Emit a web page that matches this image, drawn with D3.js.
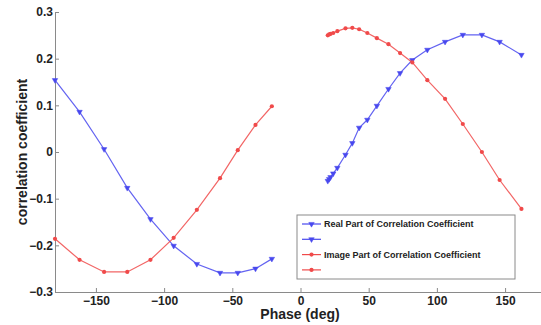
<!DOCTYPE html>
<html>
<head>
<meta charset="utf-8">
<script src="https://cdn.jsdelivr.net/npm/d3@7"></script>
<style>
  body { margin: 0; background: #fff; }
  text { font-family: "Liberation Sans", Arial, sans-serif; font-weight: bold; }
</style>
</head>
<body>
<div id="chart"></div>
<script>
//***************** data *******************/
var phaseNeg = [-180, -162, -144, -127, -110, -93, -76, -59, -46, -33, -21];
var realNeg  = [0.154, 0.086, 0.006, -0.077, -0.144, -0.201, -0.240, -0.259, -0.259, -0.250, -0.229];
var imagNeg  = [-0.186, -0.231, -0.257, -0.257, -0.231, -0.184, -0.124, -0.056, 0.004, 0.058, 0.098];

var phasePos = [20, 21, 22, 24, 27, 33, 38, 43, 49, 56, 64.5, 73, 82, 93, 106, 119, 133, 146, 162];
var realPos  = [-0.062, -0.058, -0.054, -0.046, -0.034, -0.006, 0.019, 0.052, 0.069, 0.099, 0.135, 0.169, 0.197, 0.219, 0.236, 0.251, 0.251, 0.236, 0.208];
var imagPos  = [0.250, 0.252, 0.253, 0.255, 0.259, 0.265, 0.266, 0.263, 0.255, 0.244, 0.231, 0.212, 0.192, 0.154, 0.114, 0.060, 0.000, -0.060, -0.122];

var xTicks = [-150, -100, -50, 0, 50, 100, 150];
var yTicks = [-0.3, -0.2, -0.1, 0, 0.1, 0.2, 0.3];
var legendLabels = ["Real Part of Correlation Coefficient", "", "Image Part of Correlation Coefficient", ""];

var blue = "#4848ee", red = "#f04a4a";

function zip(xs, ys) { return xs.map(function(d, i) { return {p: d, v: ys[i]}; }); }

var series = [
  {data: zip(phaseNeg, realNeg), color: blue, marker: "tri"},
  {data: zip(phasePos, realPos), color: blue, marker: "tri"},
  {data: zip(phaseNeg, imagNeg), color: red, marker: "dot"},
  {data: zip(phasePos, imagPos), color: red, marker: "dot"}
];

//************* dimensions ***************/
var W = 541, H = 325;
var svg = d3.select("#chart").append("svg")
  .attr("width", W).attr("height", H);

var x = d3.scaleLinear().domain([-180, 180]).range([55, 546]);
var y = d3.scaleLinear().domain([-0.3, 0.3]).range([292, 12]);

//***************** axes *******************/
var xAxis = svg.append("g")
  .attr("transform", "translate(0," + y(-0.3) + ")")
  .call(d3.axisBottom(x).tickValues(xTicks).tickSizeInner(-4).tickSizeOuter(0).tickPadding(4));
var yAxis = svg.append("g")
  .attr("transform", "translate(" + x(-180) + ",0)")
  .call(d3.axisLeft(y).tickValues(yTicks).tickSizeInner(-4).tickSizeOuter(0).tickPadding(2)
    .tickFormat(function(d) { return d === 0 ? "0" : d3.format(".1f")(d); }));

[xAxis, yAxis].forEach(function(g) {
  g.select(".domain").attr("stroke", "#8a8a8a");
  g.selectAll(".tick line").attr("stroke", "#8a8a8a");
  g.selectAll(".tick text").attr("fill", "#222").style("font-size", "12px");
});

//***************** labels *******************/
svg.append("text")
  .attr("x", 300).attr("y", 319)
  .attr("text-anchor", "middle")
  .attr("fill", "#222")
  .style("font-size", "14px")
  .text("Phase (deg)");

svg.append("text")
  .attr("transform", "translate(27,152) rotate(-90)")
  .attr("text-anchor", "middle")
  .attr("fill", "#222")
  .style("font-size", "14px")
  .text("correlation coefficient");

//***************** lines *******************/
var line = d3.line()
  .x(function(d) { return x(d.p); })
  .y(function(d) { return y(d.v); });

var triangle = d3.symbol().type(d3.symbolTriangle).size(13);

function drawMarker(sel, s) {
  if (s.marker == "tri") {
    sel.append("path")
      .attr("d", triangle)
      .attr("transform", "rotate(180)")
      .attr("fill", s.color)
      .attr("stroke", s.color)
      .attr("stroke-width", 0.5);
  } else {
    sel.append("circle")
      .attr("r", 2.1)
      .attr("fill", s.color);
  }
}

series.forEach(function(s) {
  svg.append("path")
    .datum(s.data)
    .attr("d", line)
    .attr("fill", "none")
    .attr("stroke", s.color)
    .attr("stroke-width", 1.2)
    .attr("stroke-opacity", 0.85);

  svg.append("g").selectAll("g")
    .data(s.data)
    .enter().append("g")
      .attr("transform", function(d) { return "translate(" + x(d.p) + "," + y(d.v) + ")"; })
      .each(function() { drawMarker(d3.select(this), s); });
});

//***************** legend *******************/
var legend = svg.append("g").attr("transform", "translate(297,215)");
legend.append("rect")
  .attr("width", 218).attr("height", 64)
  .attr("fill", "#fff")
  .attr("stroke", "#8a8a8a");

legendLabels.forEach(function(lbl, i) {
  var s = series[i];
  var row = legend.append("g").attr("transform", "translate(0," + (9 + i * 15.3) + ")");
  row.append("line")
    .attr("x1", 5).attr("x2", 24)
    .attr("stroke", s.color).attr("stroke-width", 1.2);
  var m = row.append("g").attr("transform", "translate(14.5,0)");
  drawMarker(m, s);
  row.append("text")
    .attr("x", 27).attr("y", 3)
    .attr("fill", "#222")
    .style("font-size", "9px")
    .text(lbl);
});
</script>
</body>
</html>
